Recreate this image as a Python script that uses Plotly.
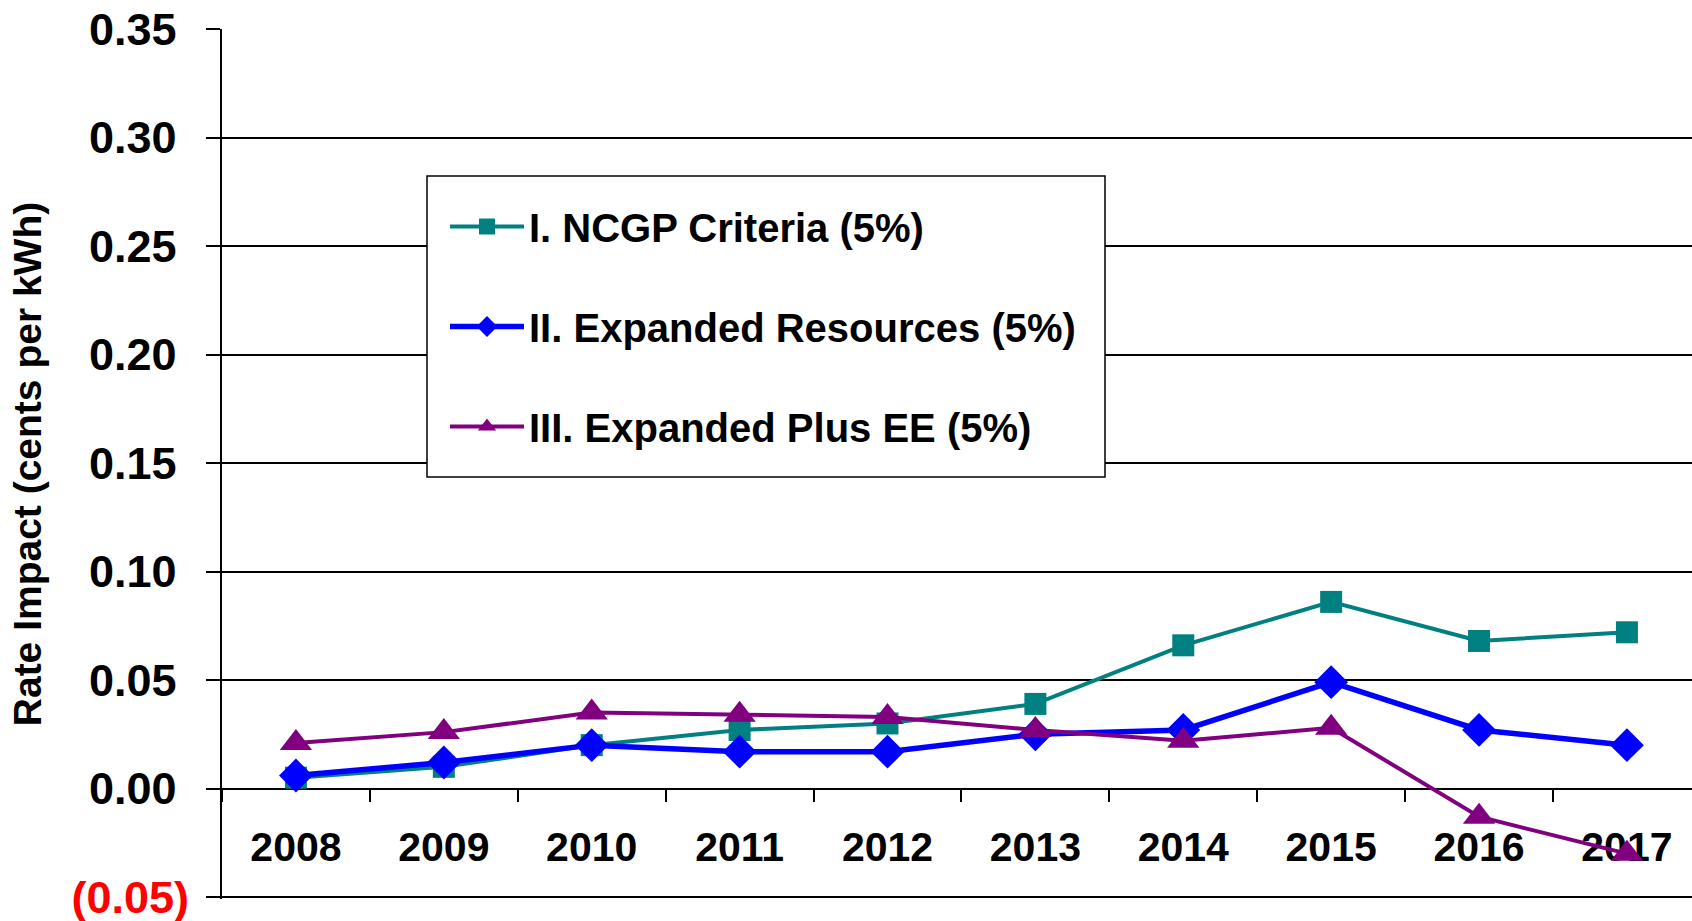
import plotly.graph_objects as go

years = ["2008", "2009", "2010", "2011", "2012", "2013", "2014", "2015", "2016", "2017"]
ncgp = [0.005, 0.010, 0.020, 0.027, 0.030, 0.039, 0.066, 0.086, 0.068, 0.072]
expanded = [0.006, 0.012, 0.020, 0.017, 0.017, 0.025, 0.027, 0.049, 0.027, 0.020]
expanded_ee = [0.021, 0.026, 0.035, 0.034, 0.033, 0.027, 0.022, 0.028, -0.013, -0.030]

names = ["I. NCGP Criteria (5%)", "II. Expanded Resources (5%)", "III. Expanded Plus EE (5%)"]
y_ticks = [-0.05, 0.0, 0.05, 0.10, 0.15, 0.20, 0.25, 0.30, 0.35]
y_ticktext = ["<span style='color:#FF0000'>(0.05)</span>"] + [f"{v:.2f}\u00a0" for v in y_ticks[1:]]

W, H = 1692, 921
ML, MR, MT, MB = 222, 0, 29, 22
FONT = "Arial, Liberation Sans, sans-serif"
YMIN, YMAX = -0.0509, 0.35

fig = go.Figure()
fig.add_trace(go.Scatter(x=years, y=ncgp, name=names[0], mode="lines+markers",
                         line=dict(color="#008080", width=4),
                         marker=dict(symbol="square", size=22, color="#008080"),
                         legendgroup="a"))
fig.add_trace(go.Scatter(x=years, y=expanded, name=names[1], mode="lines+markers",
                         line=dict(color="#0000FF", width=5.5),
                         marker=dict(symbol="diamond", size=26, color="#0000FF"),
                         legendgroup="b"))
fig.add_trace(go.Scatter(x=years, y=expanded_ee, name=names[2], mode="lines+markers",
                         line=dict(color="#800080", width=4),
                         marker=dict(symbol="triangle-up", size=28, color="#800080"),
                         legendgroup="c"))

pw = W - ML - MR
ph = H - MT - MB


def px_x(p):
    return (p - ML) / pw


def px_y(p):
    return (H - MB - p) / ph


# legend frame
fig.add_shape(type="rect", xref="paper", yref="paper",
              x0=px_x(427), x1=px_x(1105), y0=px_y(477), y1=px_y(176),
              line=dict(color="black", width=1.5), fillcolor="white", layer="above")

fig.update_layout(
    width=W, height=H,
    margin=dict(l=ML, r=MR, t=MT, b=MB),
    paper_bgcolor="white", plot_bgcolor="white",
    font=dict(family=FONT, color="black"),
    showlegend=True,
    legend=dict(
        x=px_x(445), y=px_y(194), xanchor="left", yanchor="top",
        bgcolor="rgba(0,0,0,0)", borderwidth=0,
        font=dict(family=FONT, size=40, color="black", weight="bold"),
        tracegroupgap=45, itemwidth=74,
    ),
    xaxis=dict(
        type="category", range=[-0.5, 9.44],
        anchor="free", position=(0 - YMIN) / (YMAX - YMIN),
        showline=True, linecolor="black", linewidth=2,
        ticks="outside", tickson="boundaries", ticklen=12, tickwidth=2, tickcolor="black",
        showgrid=False, zeroline=False, automargin=False,
        tickfont=dict(family=FONT, size=41, color="black", weight="bold"),
        ticklabelstandoff=22,
        layer="below traces",
    ),
    yaxis=dict(
        range=[YMIN, YMAX],
        tickvals=y_ticks, ticktext=y_ticktext,
        showline=True, linecolor="black", linewidth=2,
        ticks="outside", ticklen=14, tickwidth=1.5, tickcolor="black",
        showgrid=True, gridcolor="black", gridwidth=1.8,
        zeroline=False, automargin=False,
        tickfont=dict(family=FONT, size=45, color="black", weight="bold"),
        ticklabelstandoff=8, ticklabeloverflow="allow",
        title=dict(text="Rate Impact (cents per kWh)", standoff=18,
                   font=dict(family=FONT, size=39, color="black", weight="bold")),
        layer="below traces",
    ),
)

fig.write_html("out.html", config={"displayModeBar": False},
               post_script="document.body.style.margin='0';document.body.style.overflow='hidden';")
